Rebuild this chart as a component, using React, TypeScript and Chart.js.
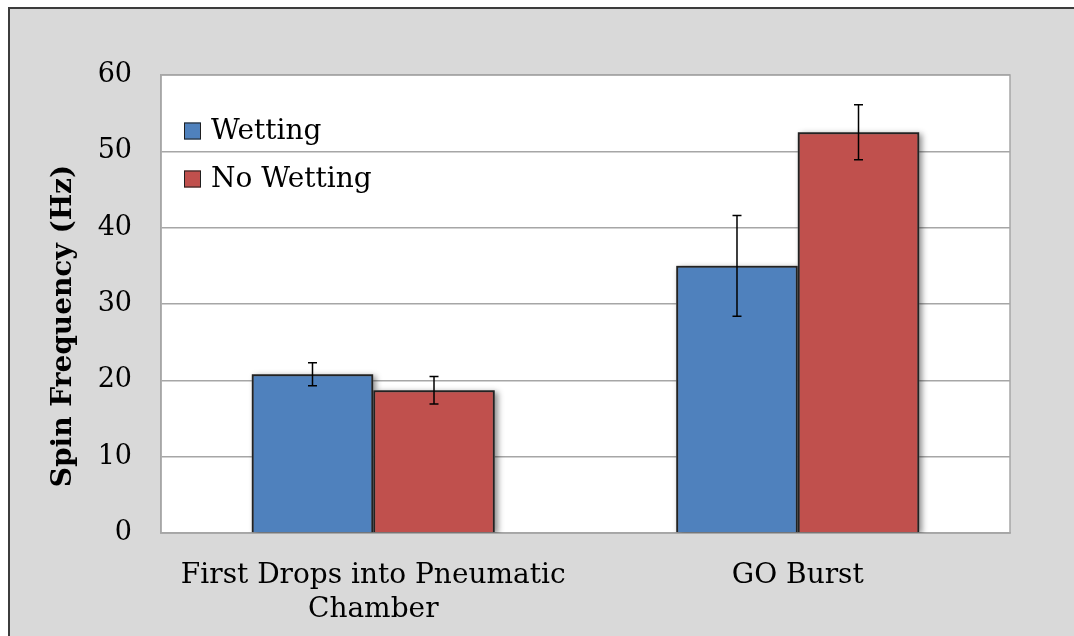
import React, { useEffect, useRef } from "react";
import { Chart, registerables } from "chart.js";

Chart.register(...registerables);

const categories: (string | string[])[] = [["First Drops into Pneumatic", "Chamber"], "GO Burst"];
const seriesNames = ["Wetting", "No Wetting"];
const wettingValues = [20.8, 35.0];
const wettingErrors = [1.5, 6.6];
const noWettingValues = [18.7, 52.5];
const noWettingErrors = [1.8, 3.6];
const yMin = 0;
const yMax = 60;
const yStep = 10;
const yTitle = "Spin Frequency (Hz)";

const FONT = "'DejaVu Serif', 'Liberation Serif', serif";

const plotBgPlugin = {
  id: "plotBg",
  beforeDraw(chart: any) {
    const { ctx, chartArea } = chart;
    ctx.save();
    ctx.fillStyle = "#ffffff";
    ctx.fillRect(chartArea.left, chartArea.top, chartArea.right - chartArea.left, chartArea.bottom - chartArea.top);
    ctx.restore();
  },
  beforeDatasetsDraw(chart: any) {
    const { ctx, chartArea } = chart;
    ctx.save();
    ctx.strokeStyle = "#a6a6a6";
    ctx.lineWidth = 1.5;
    ctx.strokeRect(chartArea.left, chartArea.top, chartArea.right - chartArea.left, chartArea.bottom - chartArea.top);
    ctx.beginPath();
    ctx.rect(chartArea.left, chartArea.top, chartArea.right - chartArea.left, chartArea.bottom - chartArea.top);
    ctx.clip();
    ctx.shadowColor = "rgba(0,0,0,0.45)";
    ctx.shadowBlur = 6;
    ctx.shadowOffsetX = 3;
    ctx.shadowOffsetY = 2;
    ctx.fillStyle = "#808080";
    chart.data.datasets.forEach((_ds: any, i: number) => {
      const meta = chart.getDatasetMeta(i);
      meta.data.forEach((el: any) => {
        const top = Math.min(el.y, el.base);
        const h = Math.abs(el.base - el.y);
        ctx.fillRect(el.x - el.width / 2, top, el.width, h);
      });
    });
    ctx.restore();
  },
};

const errorBarPlugin = {
  id: "errorBars",
  afterDatasetsDraw(chart: any) {
    const { ctx } = chart;
    const yScale = chart.scales.y;
    chart.data.datasets.forEach((ds: any, i: number) => {
      const meta = chart.getDatasetMeta(i);
      const errs: number[] = ds.errors || [];
      meta.data.forEach((el: any, j: number) => {
        const v = ds.data[j];
        const e = errs[j];
        if (e == null) return;
        const x = el.x;
        const yTop = yScale.getPixelForValue(v + e);
        const yBot = yScale.getPixelForValue(v - e);
        ctx.save();
        ctx.strokeStyle = "#000000";
        ctx.lineWidth = 1.5;
        ctx.beginPath();
        ctx.moveTo(x, yTop);
        ctx.lineTo(x, yBot);
        ctx.moveTo(x - 4.5, yTop);
        ctx.lineTo(x + 4.5, yTop);
        ctx.moveTo(x - 4.5, yBot);
        ctx.lineTo(x + 4.5, yBot);
        ctx.stroke();
        ctx.restore();
      });
    });
  },
};

const legendAndTitlePlugin = {
  id: "customLegend",
  afterDraw(chart: any) {
    const { ctx, chartArea } = chart;
    ctx.save();
    chart.data.datasets.forEach((ds: any, i: number) => {
      const bx = chartArea.left + 23;
      const cy = chartArea.top + 56 + i * 48;
      ctx.fillStyle = ds.backgroundColor;
      ctx.fillRect(bx, cy - 8.5, 17, 17);
      ctx.strokeStyle = "#1f1f1f";
      ctx.lineWidth = 1;
      ctx.strokeRect(bx + 0.5, cy - 8, 16, 16);
      ctx.fillStyle = "#000000";
      ctx.font = `28px ${FONT}`;
      ctx.textAlign = "left";
      ctx.textBaseline = "middle";
      ctx.fillText(ds.label, bx + 27, cy + 1);
    });
    ctx.translate(64, 326);
    ctx.rotate(-Math.PI / 2);
    ctx.font = `bold 28px ${FONT}`;
    ctx.textAlign = "center";
    ctx.textBaseline = "middle";
    ctx.fillStyle = "#000000";
    ctx.fillText(yTitle, 0, 0);
    ctx.restore();
  },
};

export default function App() {
  const canvasRef = useRef<HTMLCanvasElement | null>(null);

  useEffect(() => {
    const canvas = canvasRef.current;
    if (!canvas) return;
    const chart = new Chart(canvas, {
      type: "bar",
      data: {
        labels: categories,
        datasets: [
          {
            label: seriesNames[0],
            data: wettingValues,
            errors: wettingErrors,
            backgroundColor: "#4f81bd",
            borderColor: "#222222",
            borderWidth: 2,
            categoryPercentage: 0.5725,
            barPercentage: 1,
          } as any,
          {
            label: seriesNames[1],
            data: noWettingValues,
            errors: noWettingErrors,
            backgroundColor: "#c0504d",
            borderColor: "#222222",
            borderWidth: 2,
            categoryPercentage: 0.5725,
            barPercentage: 1,
          } as any,
        ],
      },
      options: {
        responsive: false,
        animation: false,
        devicePixelRatio: 1,
        layout: { padding: { top: 75, right: 64, left: 0, bottom: 0 } },
        plugins: {
          legend: { display: false },
          tooltip: { enabled: false },
        },
        scales: {
          x: {
            grid: { display: false, drawTicks: false },
            border: { display: true, color: "#a6a6a6", width: 1.5 },
            ticks: {
              color: "#000000",
              font: { family: FONT, size: 28, lineHeight: 1.21 },
              padding: 26,
              maxRotation: 0,
              autoSkip: false,
            },
            afterFit(scale: any) {
              scale.height = 103;
            },
          },
          y: {
            min: yMin,
            max: yMax,
            grid: { color: "#a6a6a6", lineWidth: 1.5, drawTicks: false },
            border: { display: true, color: "#a6a6a6", width: 1.5 },
            ticks: {
              stepSize: yStep,
              color: "#000000",
              font: { family: FONT, size: 27 },
              padding: 29,
            },
            afterFit(scale: any) {
              scale.width = 161;
            },
          },
        },
      },
      plugins: [plotBgPlugin, errorBarPlugin, legendAndTitlePlugin],
    });
    return () => chart.destroy();
  }, []);

  return (
    <div>
      <div
        style={{
          position: "fixed",
          left: 8,
          top: 7,
          width: 1066,
          height: 629,
          background: "#d9d9d9",
          borderLeft: "2px solid #3c3c3c",
          borderTop: "2px solid #3c3c3c",
          boxSizing: "border-box",
        }}
      />
      <canvas
        ref={canvasRef}
        width={1074}
        height={636}
        style={{ position: "fixed", left: 0, top: 0, width: 1074, height: 636 }}
      />
    </div>
  );
}
